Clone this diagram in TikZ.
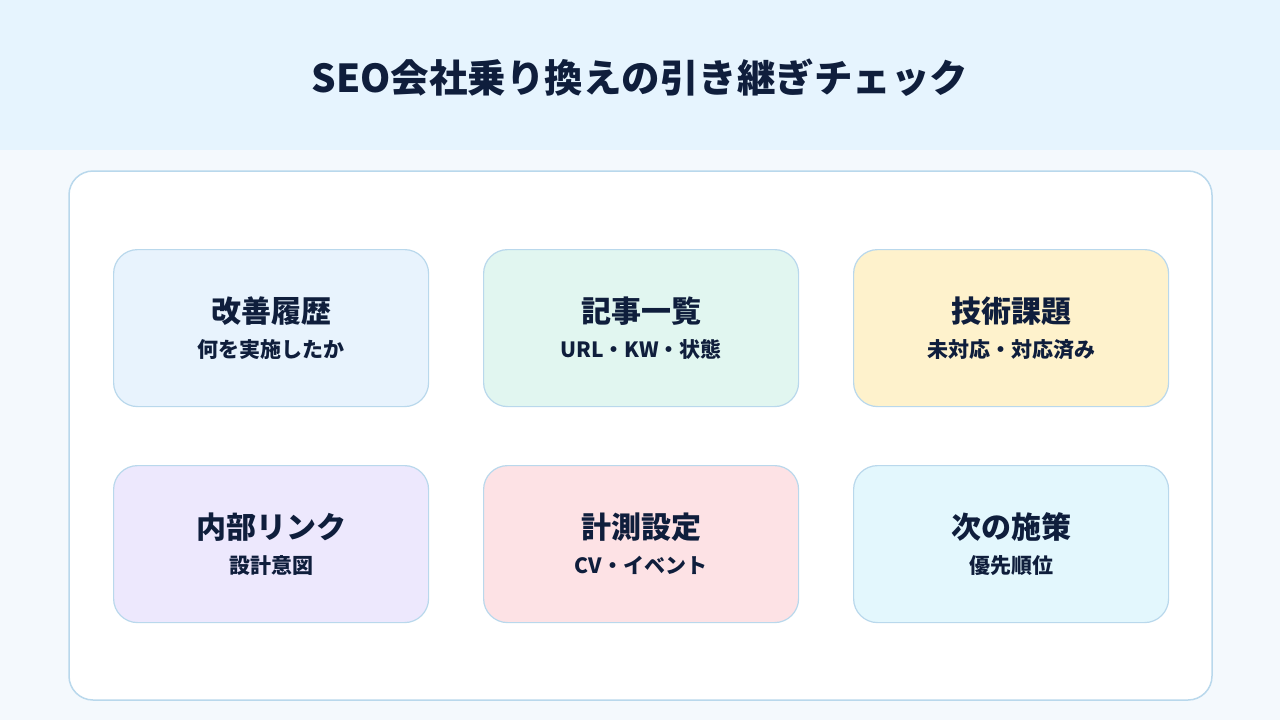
\documentclass[tikz,border=0pt]{standalone}
\usepackage{fontspec}
\setmainfont{Noto Sans CJK JP}
\usepackage{xcolor}
\usetikzlibrary{positioning}

\definecolor{ink}{HTML}{0F1E3C}
\definecolor{headbg}{HTML}{E6F4FE}
\definecolor{pagebg}{HTML}{F4F9FD}
\definecolor{edge}{HTML}{B9D8EC}
\definecolor{cblue}{HTML}{E8F3FD}
\definecolor{cgreen}{HTML}{E1F6F0}
\definecolor{cyellow}{HTML}{FEF2CC}
\definecolor{cpurple}{HTML}{EDE8FD}
\definecolor{cpink}{HTML}{FDE2E5}
\definecolor{ccyan}{HTML}{E3F7FD}

\newcommand{\cardtext}[2]{{\fontsize{30}{35}\selectfont #1}\\ #2}

\begin{document}
\begin{tikzpicture}[
  x=1pt, y=-1pt,
  font=\bfseries\fontsize{21}{35}\selectfont, text=ink,
  card/.style={draw=edge, line width=1.2pt, rounded corners=24pt, align=center,
    minimum width=315pt, minimum height=157pt, inner sep=0pt},
  node distance=57.8pt and 53.8pt]
\useasboundingbox (0,0) rectangle (1280,720);
\fill[pagebg] (0,0) rectangle (1280,720);
\fill[headbg] (0,0) rectangle (1280,150);
\node[font=\bfseries\fontsize{38.5}{46}\selectfont] (title) at (640,78) {SEO会社乗り換えの引き継ぎチェック};
\draw[edge, fill=white, line width=1.5pt, rounded corners=24pt] (69,171) rectangle (1212,700);
\node[card, fill=cblue, anchor=north west] (history) at (113,249) {\cardtext{改善履歴}{何を実施したか}};
\node[card, fill=cgreen, right=of history] (articles) {\cardtext{記事一覧}{URL・KW・状態}};
\node[card, fill=cyellow, right=of articles] (tech) {\cardtext{技術課題}{未対応・対応済み}};
\node[card, fill=cpurple, below=of history] (links) {\cardtext{内部リンク}{設計意図}};
\node[card, fill=cpink, right=of links] (measure) {\cardtext{計測設定}{CV・イベント}};
\node[card, fill=ccyan, right=of measure] (next) {\cardtext{次の施策}{優先順位}};
\end{tikzpicture}
\end{document}
